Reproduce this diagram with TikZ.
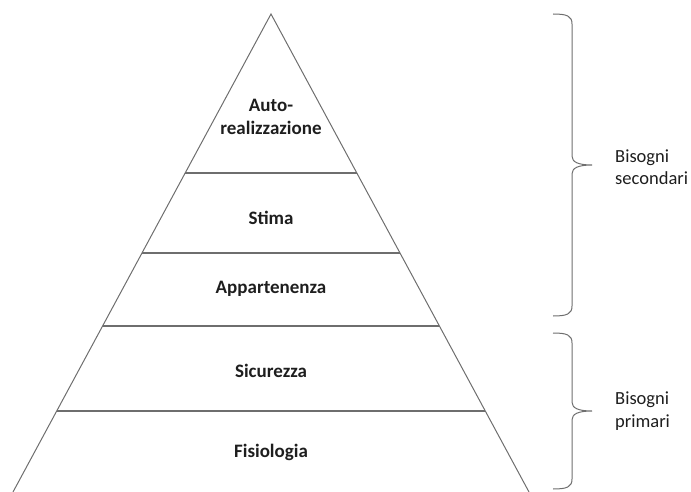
\documentclass[tikz,border=0pt]{standalone}
\usepackage{fontspec}
\setmainfont{Carlito}
\usetikzlibrary{calc}
\definecolor{EdgeGray}{RGB}{110,110,110}
\definecolor{TextDark}{RGB}{30,30,30}
\tikzset{
  side/.style={draw=EdgeGray,line width=1pt},
  levelline/.style={draw=EdgeGray,line width=1.1pt},
  levellabel/.style={font=\fontsize{19}{22.5}\selectfont\bfseries,
    text=TextDark,align=center,inner sep=0pt},
  needlabel/.style={font=\fontsize{18.5}{22.5}\selectfont,text=TextDark,
    align=left,anchor=west,inner sep=0pt},
  needbrace/.style={draw=EdgeGray,line width=1pt},
}
\begin{document}
\begin{tikzpicture}[x=1pt,y=-1pt]
  \useasboundingbox (0,0) rectangle (691,492);
  % pyramid sides
  \coordinate (apex) at (271,14);
  \coordinate (bl) at (13,492);
  \coordinate (br) at (529,492);
  \draw[side] (bl) -- (apex) -- (br);
  % level separators
  \foreach \yl/\name in {173/lone,253/ltwo,326/lthree,411/lfour}{
    \pgfmathsetmacro\frac{(\yl-14)/478}
    \draw[levelline] ($(apex)!\frac!(bl)$) coordinate (\name w)
      -- ($(apex)!\frac!(br)$) coordinate (\name e);
  }
  % level labels
  \node[levellabel] (selfreal) at (271,117) {Auto-\\realizzazione};
  \node[levellabel] (esteem) at (271,218) {Stima};
  \node[levellabel] (belong) at (271,289) {Appartenenza};
  \node[levellabel] (safety) at (271,371) {Sicurezza};
  \node[levellabel] (physio) at (271,452) {Fisiologia};
  % braces
  \foreach \ya/\yb/\name in {14/316/sec,333/489/pri}{
    \pgfmathsetmacro\ym{(\ya+\yb)/2}
    \draw[needbrace] (553,\ya) .. controls (567,\ya) and (572,\ya+2) .. (572,\ya+10)
      -- (572,\ym-9) .. controls (572,\ym-3) and (578,\ym) .. (592,\ym)
      coordinate (\name tip)
      .. controls (578,\ym) and (572,\ym+3) .. (572,\ym+9)
      -- (572,\yb-10) .. controls (572,\yb-2) and (567,\yb) .. (553,\yb);
  }
  % brace labels
  \node[needlabel] (secondary) at (615,167) {Bisogni\\secondari};
  \node[needlabel] (primary) at (615,411) {Bisogni\\primari};
\end{tikzpicture}
\end{document}
